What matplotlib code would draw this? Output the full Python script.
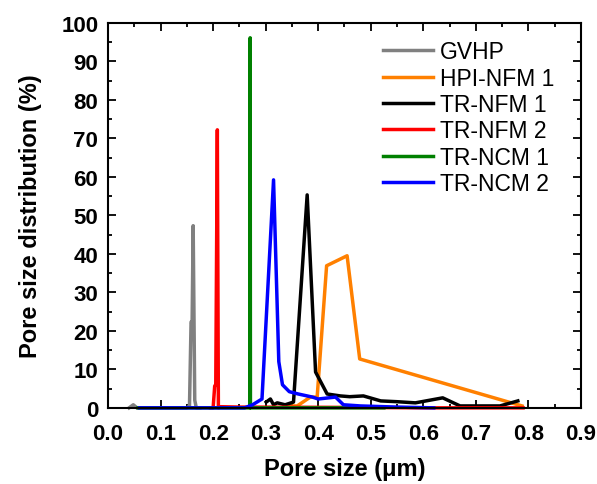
import numpy as np
import matplotlib
matplotlib.use('Agg')
import matplotlib.pyplot as plt
from matplotlib.ticker import MultipleLocator

plt.rcParams['font.family'] = ['Liberation Sans', 'DejaVu Sans']

# pore size (um) / distribution (%)
gvhp_x = [0.040, 0.048, 0.055, 0.150, 0.155, 0.158, 0.160, 0.162, 0.165, 0.168, 0.175]
gvhp_y = [0.0, 0.8, 0.0, 0.0, 0.5, 22.3, 22.0, 47.3, 2.0, 0.0, 0.0]

hpi_x = [0.337, 0.360, 0.385, 0.398, 0.416, 0.455, 0.479, 0.788]
hpi_y = [0.5, 0.5, 2.8, 2.8, 36.9, 39.5, 12.7, 0.5]

nfm1_x = [0.301, 0.309, 0.315, 0.322, 0.337, 0.353, 0.379, 0.395, 0.417, 0.442,
          0.460, 0.486, 0.519, 0.550, 0.585, 0.637, 0.670, 0.746, 0.780]
nfm1_y = [1.5, 2.3, 0.8, 1.3, 0.8, 1.5, 55.3, 9.3, 3.6, 3.1,
          2.9, 3.1, 1.8, 1.6, 1.3, 2.6, 0.5, 0.5, 1.8]

nfm2_x = [0.195, 0.200, 0.203, 0.205, 0.208, 0.210, 0.215, 0.250, 0.500, 0.600, 0.700, 0.790]
nfm2_y = [0.0, 0.0, 5.7, 6.0, 72.2, 0.0, 0.3, 0.2, 0.1, 0.0, 0.0, 0.0]

ncm1_x = [0.057, 0.2700, 0.2705, 0.2710, 0.525]
ncm1_y = [0.0, 0.0, 96.1, 0.0, 0.0]

ncm2_x = [0.060, 0.260, 0.275, 0.293, 0.315, 0.325, 0.332, 0.345, 0.362, 0.389,
          0.400, 0.433, 0.448, 0.480, 0.550, 0.620]
ncm2_y = [0.0, 0.0, 0.8, 2.3, 59.2, 12.0, 6.0, 4.2, 3.6, 2.8,
          2.3, 2.8, 0.8, 0.5, 0.2, 0.0]

series = [
    (gvhp_x, gvhp_y, 'GVHP', '#808080'),
    (hpi_x, hpi_y, 'HPI-NFM 1', '#ff8000'),
    (nfm1_x, nfm1_y, 'TR-NFM 1', 'black'),
    (nfm2_x, nfm2_y, 'TR-NFM 2', 'red'),
    (ncm1_x, ncm1_y, 'TR-NCM 1', 'green'),
    (ncm2_x, ncm2_y, 'TR-NCM 2', 'blue'),
]

fig = plt.figure(figsize=(5.97, 4.85), dpi=100)
ax = fig.add_axes([0.181, 0.157, 0.792, 0.794])

for x, y, lab, c in series:
    ax.plot(x, y, color=c, lw=2.5, label=lab, clip_on=False)

ax.set_xlim(0, 0.9)
ax.set_ylim(0, 100)
ax.xaxis.set_major_locator(MultipleLocator(0.1))
ax.xaxis.set_minor_locator(MultipleLocator(0.05))
ax.yaxis.set_major_locator(MultipleLocator(10))
ax.yaxis.set_minor_locator(MultipleLocator(5))
ax.xaxis.set_major_formatter(matplotlib.ticker.FormatStrFormatter('%.1f'))

for s in ax.spines.values():
    s.set_linewidth(1.5)

ax.tick_params(which='both', direction='in', width=1.3, top=True, right=True)
ax.tick_params(which='major', length=6, labelsize=16)
ax.tick_params(which='minor', length=3)
ax.tick_params(axis='x', which='major', pad=11)
ax.tick_params(axis='y', which='major', pad=7)
for lab in ax.get_xticklabels() + ax.get_yticklabels():
    lab.set_fontweight('bold')

ax.set_xlabel('Pore size (\u03bcm)', fontsize=17, fontweight='bold', labelpad=9)
ax.set_ylabel('Pore size distribution (%)', fontsize=17, fontweight='bold', labelpad=14)

ax.legend(loc='upper left', bbox_to_anchor=(0.581, 0.955), frameon=False, fontsize=16.5,
          handlelength=2.2, handletextpad=0.3, labelspacing=0.15, borderaxespad=0,
          borderpad=0)

fig.savefig('out.png', dpi=100)
